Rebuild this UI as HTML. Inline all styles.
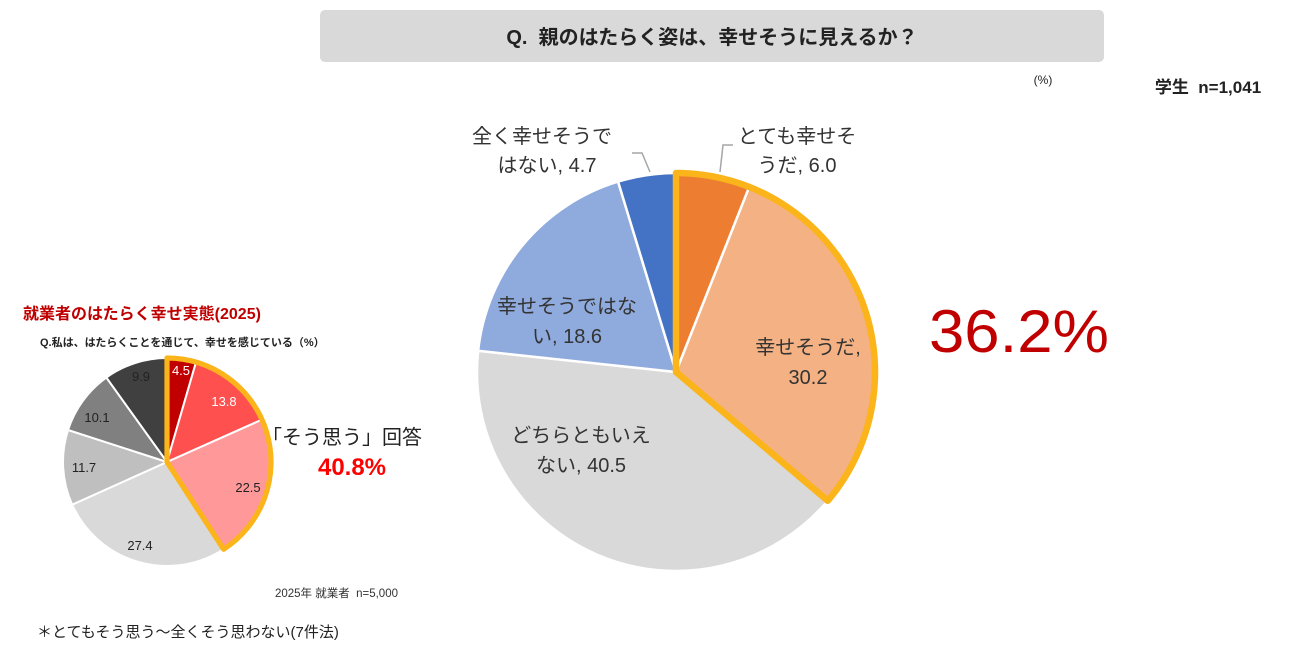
<!DOCTYPE html>
<html><head><meta charset="utf-8">
<style>
body{margin:0;width:1310px;height:660px;background:#fff;overflow:hidden;font-family:"Liberation Sans","Noto Sans CJK JP",sans-serif;}
svg{position:absolute;left:0;top:0}
text{font-family:"Liberation Sans","Noto Sans CJK JP",sans-serif;}
</style></head><body>
<svg id="s" width="1310" height="660" viewBox="0 0 1310 660">
<rect x="320" y="10" width="784" height="52" rx="5" fill="#d9d9d9"/>
<text x="712" y="44" text-anchor="middle" font-size="20" font-weight="bold" fill="#222">Q.&#160;&#160;親のはたらく姿は、幸せそうに見えるか？</text>
<text x="1043" y="84" text-anchor="middle" font-size="12" fill="#222">(%)</text>
<text x="1208" y="93" text-anchor="middle" font-size="17" font-weight="bold" fill="#222">学生&#160;&#160;n=1,041</text>
<g id="big"></g>
<g id="small"></g>
<polyline points="650,172 642,153 632,153" fill="none" stroke="#a6a6a6" stroke-width="1.5"/>
<polyline points="720,172 723,145 733,145" fill="none" stroke="#a6a6a6" stroke-width="1.5"/>
<g font-size="20" fill="#333" text-anchor="middle">
<text x="542" y="143">全く幸せそうで</text>
<text x="547" y="172">はない, 4.7</text>
<text x="797" y="143">とても幸せそ</text>
<text x="797" y="172">うだ, 6.0</text>
<text x="567" y="313">幸せそうではな</text>
<text x="567" y="343">い, 18.6</text>
<text x="808" y="354">幸せそうだ,</text>
<text x="808" y="384">30.2</text>
<text x="581" y="442">どちらともいえ</text>
<text x="581" y="472">ない, 40.5</text>
</g>
<text x="1019" y="352" text-anchor="middle" font-size="60" fill="#c00000" textLength="180" lengthAdjust="spacingAndGlyphs">36.2%</text>
<text x="23" y="319" font-size="16" font-weight="bold" fill="#c00000">就業者のはたらく幸せ実態(2025)</text>
<text x="40" y="346" font-size="11" font-weight="bold" fill="#222">Q.私は、はたらくことを通じて、幸せを感じている（%）</text>
<g font-size="13" text-anchor="middle">
<text x="181" y="375" fill="#fff">4.5</text>
<text x="224" y="406" fill="#fff">13.8</text>
<text x="248" y="492" fill="#222">22.5</text>
<text x="140" y="550" fill="#222">27.4</text>
<text x="84" y="472" fill="#222">11.7</text>
<text x="97" y="422" fill="#222">10.1</text>
<text x="141" y="381" fill="#222">9.9</text>
</g>
<text x="342" y="444" text-anchor="middle" font-size="20" fill="#222">「そう思う」回答</text>
<text x="352" y="475" text-anchor="middle" font-size="24" font-weight="bold" fill="#ff0000">40.8%</text>
<text x="398" y="597" text-anchor="end" font-size="11.5" fill="#333">2025年 就業者&#160;&#160;n=5,000</text>
<text x="37" y="637" font-size="15" fill="#222">＊とてもそう思う～全くそう思わない(7件法)</text>
</svg>
<script>
function pt(cx,cy,r,a){var t=a*Math.PI/180;return [cx+r*Math.sin(t),cy-r*Math.cos(t)];}
function arc(cx,cy,r,a0,a1){var p0=pt(cx,cy,r,a0),p1=pt(cx,cy,r,a1);return "M"+cx+","+cy+" L"+p0[0]+","+p0[1]+" A"+r+","+r+" 0 "+((a1-a0)>180?1:0)+" 1 "+p1[0]+","+p1[1]+" Z";}
function pie(id,cx,cy,r,vals,cols,sw,hi){var g=document.getElementById(id),tot=vals.reduce((a,b)=>a+b,0),a=0,h="";
vals.forEach(function(v,i){var a1=a+v/tot*360;h+='<path d="'+arc(cx,cy,r,a,a1)+'" fill="'+cols[i]+'" stroke="#fff" stroke-width="'+sw+'"/>';a=a1;});
var ha=hi/tot*360;h+='<path d="'+arc(cx,cy,r,0,ha)+'" fill="none" stroke="#fbb41a" stroke-width="'+(sw*2.6)+'" stroke-linejoin="round"/>';
g.innerHTML=h;}
pie("big",676,372,199,[6.0,30.2,40.5,18.6,4.7],["#ed7d31","#f4b183","#d9d9d9","#8faadc","#4472c4"],2.5,36.2);
pie("small",167,462,104,[4.5,13.8,22.5,27.4,11.7,10.1,9.9],["#c00000","#ff5050","#ff9999","#d9d9d9","#bfbfbf","#808080","#404040"],2,40.8);
</script>
</body></html>
